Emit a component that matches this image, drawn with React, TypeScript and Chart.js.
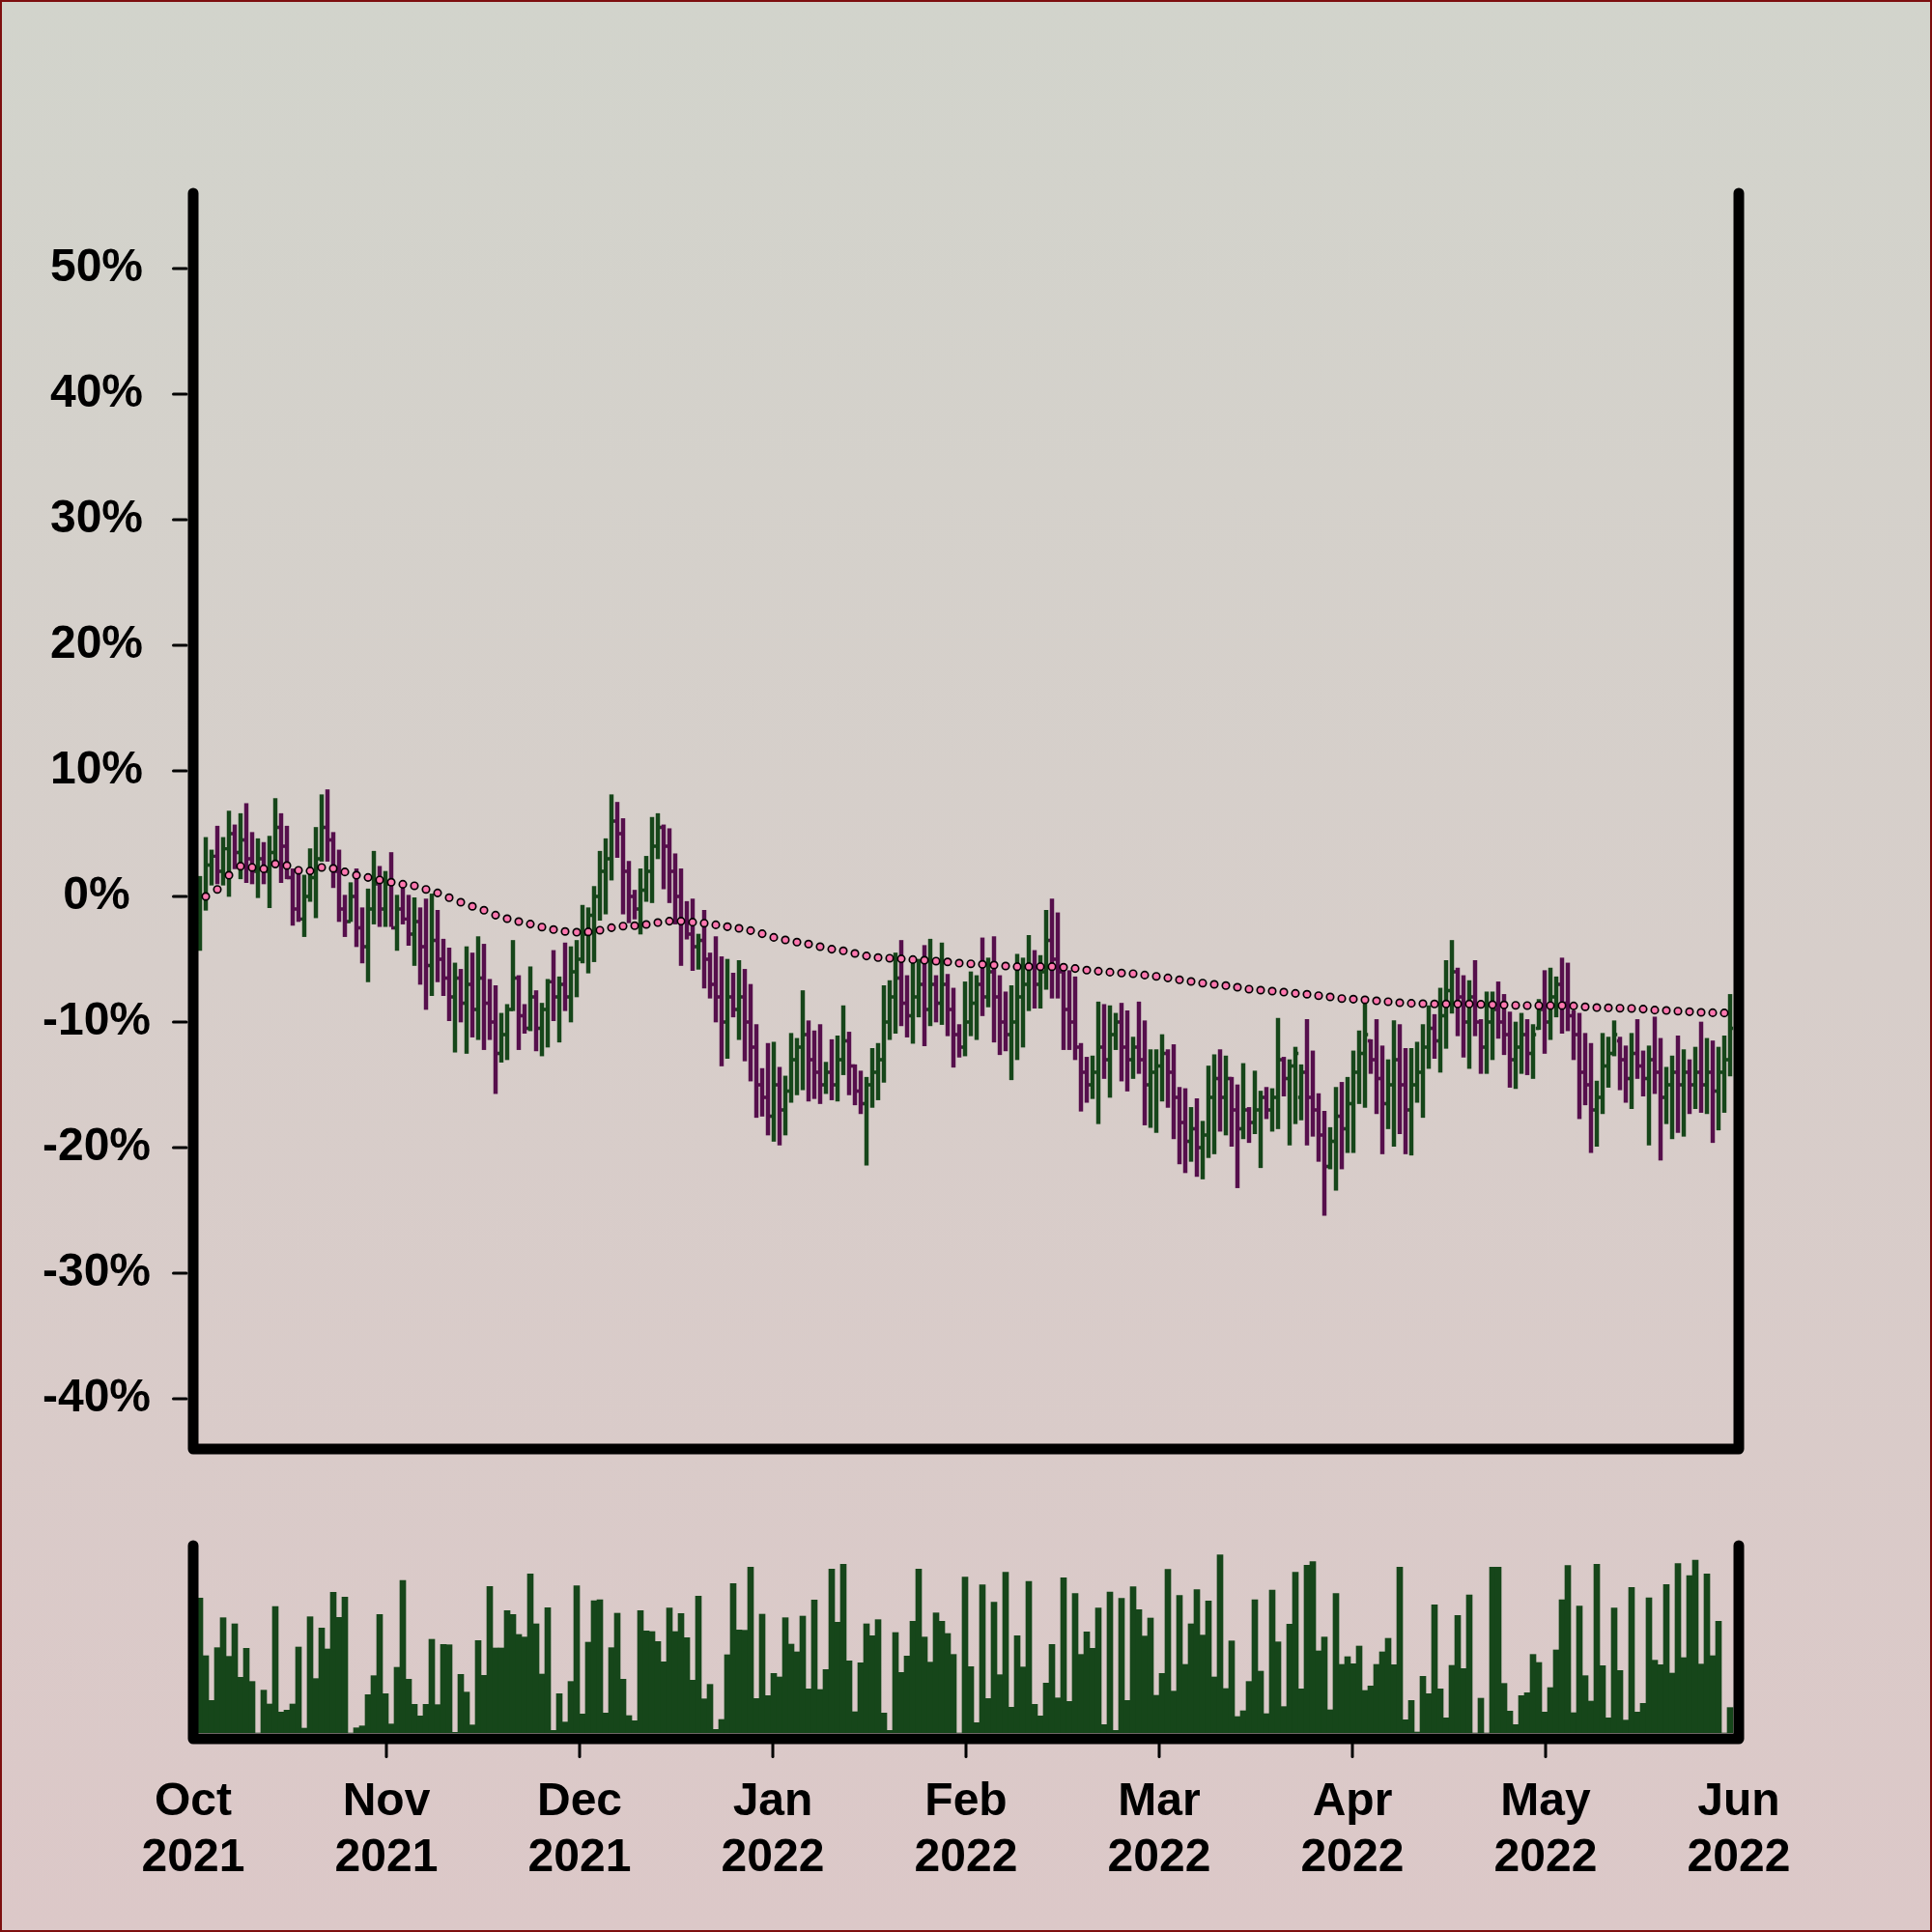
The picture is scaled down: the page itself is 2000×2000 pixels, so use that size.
import React, { useEffect, useRef } from 'react';
import { Chart, registerables } from 'chart.js';

Chart.register(...registerables);

// ---- data (percent change, one bar per session) ----
const openValues = [
  -2.0, 0.0, 2.5, 3.2, 2.0, 3.8, 5.0, 3.5, 4.5, 3.0,
  2.0, 3.0, 2.0, 3.5, 5.5, 4.0, 1.5, -1.0, -1.8, 0.0,
  1.5, 3.0, 5.5, 4.5, 2.0, -1.0, -2.0, 0.0, -2.5, -4.0,
  -1.0, 1.0, -1.0, 1.0, -2.5, -1.0, -1.8, -3.0, -2.0, -4.0,
  -5.5, -3.5, -5.0, -6.5, -8.0, -6.5, -8.5, -7.0, -9.0, -6.5,
  -8.5, -10.0, -12.5, -11.0, -9.0, -6.5, -9.5, -10.5, -8.0, -10.5,
  -9.0, -6.8, -8.0, -7.0, -8.0, -6.0, -5.0, -3.0, -1.5, 0.0,
  2.0, 3.0, 6.0, 5.0, 2.0, 0.0, -1.0, 0.5, 2.0, 4.0,
  5.5, 4.0, 2.0, 0.0, -2.0, -3.0, -4.0, -3.5, -5.0, -7.0,
  -8.0, -10.0, -8.0, -9.0, -8.0, -10.0, -12.0, -15.0, -16.0, -17.5,
  -15.0, -17.0, -15.5, -13.0, -12.0, -11.0, -13.0, -14.0, -15.0, -14.0,
  -15.0, -13.0, -11.5, -13.5, -15.5, -16.5, -15.0, -14.0, -13.0, -10.0,
  -8.0, -6.5, -8.5, -9.5, -8.0, -7.0, -9.0, -7.0, -8.5, -7.0,
  -9.0, -11.0, -12.0, -10.0, -8.5, -7.0, -8.0, -6.0, -8.0, -10.0,
  -11.0, -10.0, -8.0, -7.0, -5.5, -7.0, -6.0, -3.5, -5.0, -6.0,
  -9.0, -10.0, -12.0, -14.0, -15.0, -14.0, -12.0, -13.0, -11.0, -10.0,
  -12.0, -13.0, -12.0, -13.0, -15.0, -14.0, -13.5, -12.5, -14.0, -16.0,
  -18.0, -19.5, -18.5, -20.0, -19.0, -16.0, -14.5, -16.0, -14.5, -17.0,
  -18.5, -17.0, -18.0, -17.0, -16.0, -17.0, -16.0, -13.0, -14.5, -13.5,
  -16.0, -14.0, -16.0, -17.0, -19.0, -21.5, -19.5, -17.5, -18.5, -16.5,
  -14.0, -12.5, -11.5, -13.0, -14.5, -16.5, -15.0, -13.0, -15.0, -17.0,
  -15.0, -14.0, -12.0, -10.5, -11.5, -9.5, -7.5, -6.0, -8.0, -10.0,
  -8.0, -10.0, -12.0, -10.0, -9.0, -10.0, -11.0, -13.0, -12.0, -11.0,
  -12.5, -10.5, -9.0, -10.0, -8.0, -7.0, -8.5, -9.5, -11.0, -14.0,
  -15.0, -17.0, -16.0, -13.5, -12.5, -11.5, -13.0, -14.5, -12.5, -13.5,
  -14.5, -13.0, -14.0, -16.0, -15.0, -14.0, -15.0, -14.0, -15.0, -14.0,
  -15.0, -14.0, -15.5, -14.0, -13.0,
];

const highValues = [
  1.6, 4.7, 3.7, 5.6, 4.7, 6.8, 5.7, 6.6, 7.4, 5.1,
  4.6, 4.3, 4.8, 7.8, 6.6, 5.6, 2.2, 2.2, 1.7, 3.8,
  5.5, 8.1, 8.5, 5.1, 3.7, 0.1, 1.1, 2.2, -0.9, 0.6,
  3.6, 2.4, 2.0, 3.5, 0.1, 1.0, 0.1, -0.1, -0.9, -0.2,
  0.2, -1.1, -3.4, -4.1, -5.3, -5.8, -4.0, -4.5, -3.2, -3.8,
  -6.6, -7.1, -9.3, -8.6, -3.5, -6.3, -8.6, -5.6, -7.5, -8.5,
  -6.6, -4.3, -6.4, -3.7, -4.0, -3.5, -0.7, -0.9, 0.8, 3.6,
  4.6, 8.1, 7.5, 6.2, 2.8, 0.5, 2.2, 3.2, 6.3, 6.6,
  5.7, 5.4, 3.4, 2.2, -0.4, -0.2, -3.0, -1.1, -4.5, -3.2,
  -4.8, -5.0, -6.1, -5.1, -5.8, -7.0, -10.2, -13.7, -11.7, -11.6,
  -13.6, -14.3, -10.9, -11.3, -7.5, -9.9, -10.7, -10.2, -13.2, -11.4,
  -11.1, -8.7, -10.8, -13.4, -13.9, -14.4, -12.1, -11.7, -7.1, -6.7,
  -4.5, -3.5, -6.3, -5.3, -5.0, -3.9, -3.4, -6.3, -3.7, -6.2,
  -7.3, -10.2, -6.8, -6.0, -6.3, -3.3, -4.9, -3.2, -6.3, -7.6,
  -7.1, -4.6, -4.9, -3.1, -4.3, -4.7, -1.1, -0.2, -1.3, -5.9,
  -5.9, -6.4, -11.7, -12.8, -12.7, -8.4, -8.6, -8.7, -9.3, -8.5,
  -9.1, -11.2, -8.4, -9.9, -12.2, -12.2, -11.0, -12.2, -11.8, -15.2,
  -15.3, -16.8, -16.1, -17.9, -13.5, -12.6, -12.2, -12.7, -14.4, -15.0,
  -13.3, -16.8, -13.9, -15.5, -15.2, -15.3, -9.7, -12.8, -13.0, -12.0,
  -13.4, -9.8, -12.3, -15.7, -17.1, -18.4, -15.2, -14.8, -14.4, -12.3,
  -10.7, -8.5, -11.4, -9.8, -11.9, -13.0, -9.9, -10.2, -12.1, -12.1,
  -11.6, -10.2, -8.7, -9.4, -7.3, -5.1, -3.5, -5.7, -6.3, -6.7,
  -5.1, -9.8, -7.6, -7.6, -6.8, -7.8, -9.2, -10.0, -9.3, -9.8,
  -10.2, -8.2, -5.9, -5.7, -6.4, -4.9, -5.3, -9.1, -9.3, -10.9,
  -11.7, -14.7, -10.9, -11.2, -9.9, -11.2, -11.9, -10.9, -9.8, -12.3,
  -11.9, -9.6, -11.3, -13.6, -12.7, -11.1, -12.2, -13.0, -12.0, -10.0,
  -11.3, -11.5, -12.0, -11.1, -7.8,
];

const lowValues = [
  -4.3, -1.1, 0.9, 1.0, 0.9, 0.0, 2.2, 1.4, 1.1, 1.0,
  -0.1, 1.0, -0.9, 2.3, 1.1, 1.4, -2.3, -2.0, -3.2, -0.4,
  -1.7, 2.8, 2.8, 0.7, -2.0, -3.2, -2.0, -4.0, -5.3, -6.8,
  -2.2, -2.4, -2.4, -2.4, -4.3, -2.2, -3.9, -5.5, -7.0, -9.0,
  -7.9, -6.8, -7.9, -9.9, -12.4, -10.0, -12.5, -11.2, -11.4, -12.2,
  -11.4, -15.7, -13.2, -13.0, -9.1, -12.2, -10.9, -10.7, -12.3, -12.7,
  -12.0, -9.9, -11.6, -9.1, -10.0, -8.0, -5.3, -6.1, -5.2, -1.9,
  -1.4, 1.3, 3.1, -1.4, -2.1, -1.8, -3.0, -0.4, -0.5, 3.0,
  0.6, -0.5, -2.2, -5.5, -3.4, -5.9, -5.8, -7.3, -8.1, -10.0,
  -13.5, -12.9, -9.6, -11.4, -13.1, -14.7, -17.6, -17.5, -19.0, -19.5,
  -19.8, -19.0, -16.4, -15.8, -15.4, -16.3, -16.1, -16.5, -15.7, -16.2,
  -16.3, -14.2, -15.8, -16.6, -17.3, -21.4, -16.8, -16.2, -14.8, -11.4,
  -10.9, -10.3, -11.2, -11.7, -9.6, -11.9, -10.3, -10.0, -10.2, -11.1,
  -13.6, -12.8, -12.7, -11.1, -11.4, -9.5, -8.8, -11.6, -12.6, -12.3,
  -14.6, -13.0, -12.0, -9.1, -8.9, -8.9, -7.4, -8.1, -8.1, -12.2,
  -12.2, -13.0, -17.1, -16.4, -16.1, -18.1, -14.5, -16.0, -12.2, -14.7,
  -15.5, -14.5, -14.1, -18.2, -18.4, -18.8, -16.3, -16.8, -19.3, -21.3,
  -22.0, -21.1, -22.3, -22.5, -20.8, -20.5, -18.7, -19.0, -19.9, -23.2,
  -19.3, -19.6, -18.9, -21.6, -17.7, -18.7, -18.5, -15.9, -19.8, -18.1,
  -17.8, -19.8, -19.1, -21.1, -25.4, -21.7, -23.4, -21.7, -20.4, -20.4,
  -16.5, -16.8, -14.1, -17.3, -20.5, -18.5, -19.9, -18.9, -20.5, -20.6,
  -16.4, -17.6, -13.7, -12.9, -14.0, -12.1, -9.3, -11.1, -12.8, -13.7,
  -11.1, -14.1, -14.1, -13.0, -11.3, -12.6, -15.2, -15.3, -14.1, -14.2,
  -14.5, -10.6, -12.5, -11.4, -9.6, -10.9, -10.7, -13.0, -17.7, -16.6,
  -20.4, -19.9, -17.3, -15.2, -12.7, -15.4, -16.4, -16.9, -14.5, -15.9,
  -19.8, -15.7, -21.0, -18.1, -19.3, -18.8, -19.1, -17.3, -16.9, -17.2,
  -17.3, -19.6, -18.6, -17.2, -14.3,
];

const closeValues = [
  0.0, 2.5, 3.2, 2.0, 3.8, 5.0, 3.5, 4.5, 3.0, 2.0,
  3.0, 2.0, 3.5, 5.5, 4.0, 1.5, -1.0, -1.8, 0.0, 1.5,
  3.0, 5.5, 4.5, 2.0, -1.0, -2.0, 0.0, -2.5, -4.0, -1.0,
  1.0, -1.0, 1.0, -2.5, -1.0, -1.8, -3.0, -2.0, -4.0, -5.5,
  -3.5, -5.0, -6.5, -8.0, -6.5, -8.5, -7.0, -9.0, -6.5, -8.5,
  -10.0, -12.5, -11.0, -9.0, -6.5, -9.5, -10.5, -8.0, -10.5, -9.0,
  -6.8, -8.0, -7.0, -8.0, -6.0, -5.0, -3.0, -1.5, 0.0, 2.0,
  3.0, 6.0, 5.0, 2.0, 0.0, -1.0, 0.5, 2.0, 4.0, 5.5,
  4.0, 2.0, 0.0, -2.0, -3.0, -4.0, -3.5, -5.0, -7.0, -8.0,
  -10.0, -8.0, -9.0, -8.0, -10.0, -12.0, -15.0, -16.0, -17.5, -15.0,
  -17.0, -15.5, -13.0, -12.0, -11.0, -13.0, -14.0, -15.0, -14.0, -15.0,
  -13.0, -11.5, -13.5, -15.5, -16.5, -15.0, -14.0, -13.0, -10.0, -8.0,
  -6.5, -8.5, -9.5, -8.0, -7.0, -9.0, -7.0, -8.5, -7.0, -9.0,
  -11.0, -12.0, -10.0, -8.5, -7.0, -8.0, -6.0, -8.0, -10.0, -11.0,
  -10.0, -8.0, -7.0, -5.5, -7.0, -6.0, -3.5, -5.0, -6.0, -9.0,
  -10.0, -12.0, -14.0, -15.0, -14.0, -12.0, -13.0, -11.0, -10.0, -12.0,
  -13.0, -12.0, -13.0, -15.0, -14.0, -13.5, -12.5, -14.0, -16.0, -18.0,
  -19.5, -18.5, -20.0, -19.0, -16.0, -14.5, -16.0, -14.5, -17.0, -18.5,
  -17.0, -18.0, -17.0, -16.0, -17.0, -16.0, -13.0, -14.5, -13.5, -12.5,
  -14.0, -16.0, -17.0, -19.0, -21.5, -19.5, -17.5, -18.5, -16.5, -14.0,
  -12.5, -11.0, -13.0, -14.5, -16.5, -15.0, -13.0, -15.0, -17.0, -15.0,
  -14.0, -12.0, -10.5, -11.5, -9.5, -7.5, -6.0, -8.0, -10.0, -8.0,
  -10.0, -12.0, -10.0, -9.0, -10.0, -11.0, -13.0, -12.0, -11.0, -12.5,
  -11.0, -9.0, -10.0, -8.0, -7.0, -8.5, -9.5, -11.0, -14.0, -15.0,
  -17.0, -16.0, -13.5, -12.5, -11.0, -13.0, -14.5, -12.5, -13.5, -14.5,
  -13.0, -14.0, -16.0, -15.0, -14.0, -15.0, -14.0, -15.0, -14.0, -15.0,
  -14.0, -15.5, -14.0, -13.0, -10.5,
];

const volumeValues = [
  419, 240, 101, 265, 358, 238, 339, 173, 263, 160,
  0, 133, 90, 393, 65, 71, 90, 267, 15, 361,
  169, 326, 261, 437, 359, 422, 0, 16, 22, 119,
  178, 368, 122, 28, 204, 474, 167, 89, 53, 89,
  291, 88, 275, 274, 2, 182, 127, 25, 287, 179,
  455, 264, 264, 380, 368, 306, 298, 494, 339, 183,
  389, 8, 122, 34, 160, 457, 59, 282, 411, 414,
  62, 265, 372, 167, 54, 38, 380, 317, 315, 284,
  221, 388, 315, 371, 296, 164, 425, 106, 151, 11,
  42, 243, 464, 320, 319, 515, 107, 369, 116, 185,
  174, 358, 276, 252, 363, 137, 413, 135, 197, 509,
  344, 524, 224, 66, 218, 339, 302, 352, 62, 8,
  312, 188, 239, 347, 509, 298, 220, 373, 347, 309,
  244, 0, 484, 206, 32, 460, 107, 406, 181, 499,
  80, 302, 205, 471, 89, 53, 155, 275, 109, 482,
  98, 433, 244, 314, 263, 388, 26, 438, 8, 418,
  101, 454, 383, 301, 357, 117, 185, 508, 130, 427,
  213, 339, 445, 304, 410, 174, 553, 138, 286, 51,
  69, 160, 414, 192, 60, 444, 283, 82, 338, 499,
  137, 521, 532, 255, 298, 72, 433, 213, 237, 215,
  270, 132, 146, 213, 252, 294, 212, 515, 41, 101,
  3, 176, 122, 398, 137, 47, 210, 365, 200, 429,
  0, 108, 0, 515, 515, 154, 68, 26, 116, 125,
  244, 219, 65, 141, 258, 414, 520, 63, 394, 178,
  99, 524, 209, 47, 388, 194, 40, 452, 65, 92,
  420, 226, 212, 461, 186, 526, 234, 489, 537, 214,
  494, 240, 347, 0, 79,
];

// moving average, sampled on every second session (sessions 1, 3, 5, ...)
const maValues = [
  0.0, 0.56, 1.69, 2.41, 2.31, 2.2, 2.59, 2.46, 2.08, 2.03,
  2.31, 2.23, 1.95, 1.69, 1.51, 1.31, 1.13, 0.97, 0.85, 0.56,
  0.28, -0.1, -0.46, -0.79, -1.1, -1.49, -1.77, -2.0, -2.2, -2.44,
  -2.64, -2.79, -2.85, -2.82, -2.69, -2.49, -2.36, -2.33, -2.23, -2.08,
  -1.97, -1.97, -2.05, -2.13, -2.26, -2.41, -2.54, -2.72, -2.97, -3.26,
  -3.46, -3.64, -3.79, -4.0, -4.2, -4.33, -4.54, -4.74, -4.87, -4.92,
  -4.97, -5.03, -5.08, -5.15, -5.21, -5.31,
  -5.36, -5.41, -5.46, -5.54, -5.59, -5.59, -5.59, -5.59, -5.64, -5.74,
  -5.87, -5.95, -6.03, -6.1, -6.15, -6.26, -6.36, -6.49, -6.64, -6.77,
  -6.9, -7.0, -7.1, -7.23, -7.38, -7.46, -7.54, -7.62, -7.72, -7.79,
  -7.9, -8.0, -8.13,
  -8.18, -8.23, -8.31, -8.38, -8.46, -8.51, -8.54, -8.56, -8.56, -8.56,
  -8.56, -8.59, -8.62, -8.64, -8.67, -8.69, -8.69, -8.69, -8.69, -8.72,
  -8.79, -8.85, -8.87, -8.9, -8.92, -8.97, -9.05, -9.08, -9.13, -9.18,
  -9.23, -9.26, -9.28,
];

const yTickValues = [-40, -30, -20, -10, 0, 10, 20, 30, 40, 50];
const monthLabels = [
  ['Oct', '2021'], ['Nov', '2021'], ['Dec', '2021'], ['Jan', '2022'], ['Feb', '2022'],
  ['Mar', '2022'], ['Apr', '2022'], ['May', '2022'], ['Jun', '2022'],
];

const X_MIN = -7 / 6;
const X_MAX = 265.5;
const Y_MIN = -44;
const Y_MAX = 56;
const VOL_MAX = 582;

const UP = '#16461a';
const DOWN = '#560f4c';
const PINK = '#ff78b0';
const FONT = { family: '"Liberation Sans", Arial, Helvetica, sans-serif', size: 48, weight: 'bold' as const };

const isUp = (i: number) => closeValues[i] >= openValues[i];

const spinePlugin = (id: string, bottomExtra: number, drawY: boolean, drawX: boolean) => ({
  id,
  afterDraw(chart: any) {
    const { ctx, chartArea: a } = chart;
    const b = a.bottom + bottomExtra;
    ctx.save();
    ctx.strokeStyle = '#000';
    ctx.lineCap = 'round';
    ctx.lineJoin = 'round';
    ctx.lineWidth = 11;
    ctx.beginPath();
    ctx.moveTo(a.left, a.top);
    ctx.lineTo(a.left, b);
    ctx.lineTo(a.right, b);
    ctx.lineTo(a.right, a.top);
    ctx.stroke();
    ctx.lineWidth = 3;
    if (drawY) {
      const ys = chart.scales.y;
      for (const v of yTickValues) {
        const py = ys.getPixelForValue(v);
        ctx.beginPath();
        ctx.moveTo(a.left - 20.5, py);
        ctx.lineTo(a.left - 7, py);
        ctx.stroke();
      }
    }
    if (drawX) {
      const xs = chart.scales.x;
      const ticks = xs.ticks;
      for (let k = 1; k < ticks.length - 1; k++) {
        const px = xs.getPixelForValue(ticks[k].value);
        ctx.beginPath();
        ctx.moveTo(px, b + 5);
        ctx.lineTo(px, b + 18.5);
        ctx.stroke();
      }
    }
    ctx.restore();
  },
});

const ohlcTickPlugin = {
  id: 'ohlcTicks',
  afterDatasetDraw(chart: any, args: any) {
    if (args.index !== 0) return;
    const { ctx } = chart;
    const xs = chart.scales.x;
    const ys = chart.scales.y;
    ctx.save();
    ctx.lineWidth = 3.3;
    ctx.lineCap = 'butt';
    for (let i = 0; i < openValues.length; i++) {
      const px = xs.getPixelForValue(i);
      const po = ys.getPixelForValue(openValues[i]);
      const pc = ys.getPixelForValue(closeValues[i]);
      ctx.strokeStyle = isUp(i) ? UP : DOWN;
      ctx.beginPath();
      ctx.moveTo(px - 3.2, po);
      ctx.lineTo(px, po);
      ctx.moveTo(px, pc);
      ctx.lineTo(px + 3.2, pc);
      ctx.stroke();
    }
    ctx.restore();
  },
};

export default function App() {
  const mainRef = useRef<HTMLCanvasElement>(null);
  const volRef = useRef<HTMLCanvasElement>(null);

  useEffect(() => {
    const barColors = openValues.map((_, i) => (isUp(i) ? UP : DOWN));

    const main = new Chart(mainRef.current as HTMLCanvasElement, {
      type: 'bar',
      data: {
        datasets: [
          {
            type: 'bar',
            data: lowValues.map((l, i) => ({ x: i, y: [l, highValues[i]] })) as any,
            backgroundColor: barColors,
            borderWidth: 0,
            barThickness: 3.8,
            order: 2,
          } as any,
          {
            type: 'line',
            data: maValues.map((v, k) => ({ x: 2 * k + 1, y: v })),
            showLine: false,
            pointRadius: 3.7,
            pointBorderWidth: 1.7,
            pointBackgroundColor: PINK,
            pointBorderColor: '#000',
            order: 1,
          } as any,
        ],
      },
      options: {
        animation: false,
        responsive: false,
        devicePixelRatio: 1,
        layout: { padding: { top: 200, right: 200, bottom: 100, left: 0 } },
        plugins: { legend: { display: false }, tooltip: { enabled: false } },
        scales: {
          x: {
            type: 'linear',
            min: X_MIN,
            max: X_MAX,
            offset: false,
            bounds: 'data',
            display: false,
          },
          y: {
            type: 'linear',
            min: Y_MIN,
            max: Y_MAX,
            bounds: 'data',
            grid: { display: false, drawTicks: false },
            border: { display: false },
            afterBuildTicks: (scale: any) => {
              scale.ticks = yTickValues.map((v) => ({ value: v }));
            },
            afterFit: (scale: any) => {
              scale.width = 200;
            },
            ticks: {
              color: '#000',
              font: FONT,
              padding: 44,
              crossAlign: 'center',
              callback: (v: any) => `${v}%`,
            },
          },
        },
      } as any,
      plugins: [ohlcTickPlugin, spinePlugin('mainSpines', 0, true, false)],
    });

    const vol = new Chart(volRef.current as HTMLCanvasElement, {
      type: 'bar',
      data: {
        datasets: [
          {
            data: volumeValues.map((v, i) => ({ x: i, y: v })),
            backgroundColor: UP,
            borderWidth: 0,
            barPercentage: 1,
            categoryPercentage: 1,
          } as any,
        ],
      },
      options: {
        animation: false,
        responsive: false,
        devicePixelRatio: 1,
        layout: { padding: { top: 100, right: 200, bottom: 0, left: 200 } },
        plugins: { legend: { display: false }, tooltip: { enabled: false } },
        scales: {
          x: {
            type: 'linear',
            min: X_MIN,
            max: X_MAX,
            offset: false,
            bounds: 'data',
            grid: { display: false, drawTicks: false },
            border: { display: false },
            afterBuildTicks: (scale: any) => {
              scale.ticks = monthLabels.map((_, k) => ({ value: X_MIN + (k * (X_MAX - X_MIN)) / (monthLabels.length - 1) }));
            },
            afterFit: (scale: any) => {
              scale.height = 206;
            },
            ticks: {
              color: '#000',
              font: FONT,
              padding: 43,
              autoSkip: false,
              maxRotation: 0,
              minRotation: 0,
              callback: (_v: any, index: number) => monthLabels[index],
            },
          },
          y: {
            type: 'linear',
            min: 0,
            max: VOL_MAX,
            display: false,
          },
        },
      } as any,
      plugins: [spinePlugin('volSpines', 6, false, true)],
    });

    return () => {
      main.destroy();
      vol.destroy();
    };
  }, []);

  return (
    <div
      style={{
        position: 'fixed',
        left: 0,
        top: 0,
        width: 2000,
        height: 2000,
        overflow: 'hidden',
        background: 'linear-gradient(to bottom, #d2d4cc 0%, #dcc8c8 100%)',
      }}
    >
      <canvas ref={mainRef} width={2000} height={1600} style={{ position: 'absolute', left: 0, top: 0 }} />
      <canvas ref={volRef} width={2000} height={500} style={{ position: 'absolute', left: 0, top: 1500 }} />
      <div
        style={{
          position: 'absolute',
          left: 0,
          top: 0,
          width: 2000,
          height: 2000,
          boxSizing: 'border-box',
          border: '2px solid #7d0f0f',
          pointerEvents: 'none',
        }}
      />
    </div>
  );
}
